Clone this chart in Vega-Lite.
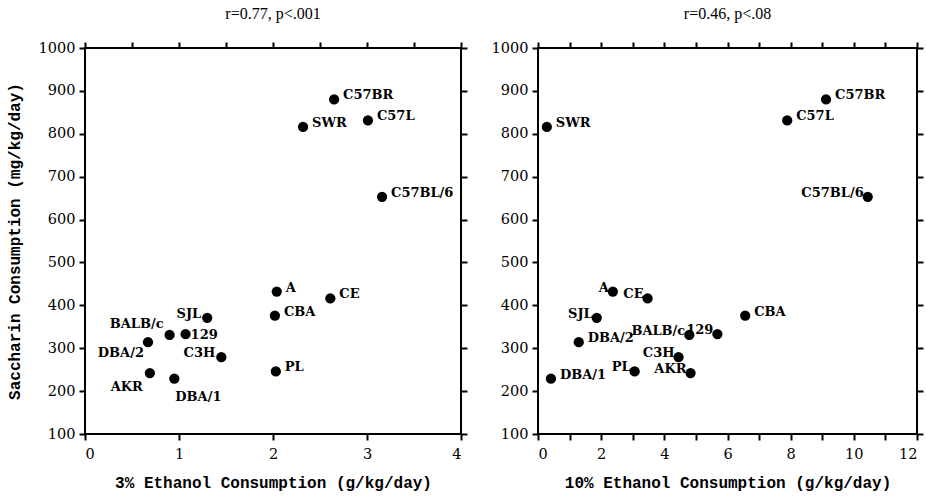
{
  "$schema": "https://vega.github.io/schema/vega-lite/v6.json",
  "background": "white",
  "padding": 5,
  "spacing": 21,
  "data": {"values": [
    {"strain": "C57BR", "e3": 2.65, "e10": 9.12, "sacc": 880},
    {"strain": "SWR", "e3": 2.32, "e10": 0.28, "sacc": 816},
    {"strain": "C57L", "e3": 3.01, "e10": 7.89, "sacc": 831},
    {"strain": "C57BL/6", "e3": 3.16, "e10": 10.44, "sacc": 653},
    {"strain": "A", "e3": 2.04, "e10": 2.37, "sacc": 432},
    {"strain": "CE", "e3": 2.61, "e10": 3.47, "sacc": 416},
    {"strain": "CBA", "e3": 2.02, "e10": 6.56, "sacc": 376},
    {"strain": "SJL", "e3": 1.30, "e10": 1.86, "sacc": 371},
    {"strain": "BALB/c", "e3": 0.90, "e10": 4.79, "sacc": 331},
    {"strain": "129", "e3": 1.07, "e10": 5.68, "sacc": 333},
    {"strain": "DBA/2", "e3": 0.67, "e10": 1.29, "sacc": 314},
    {"strain": "C3H", "e3": 1.45, "e10": 4.45, "sacc": 279},
    {"strain": "PL", "e3": 2.03, "e10": 3.06, "sacc": 246},
    {"strain": "AKR", "e3": 0.69, "e10": 4.83, "sacc": 242},
    {"strain": "DBA/1", "e3": 0.95, "e10": 0.41, "sacc": 229}
  ]},
  "hconcat": [
    {
      "width": 376,
      "height": 386,
      "title": {"text": "r=0.77, p<.001", "font": "Liberation Serif", "fontSize": 16, "fontWeight": "normal", "offset": 18},
      "layer": [
        {
          "mark": {"type": "circle", "size": 105, "color": "black", "opacity": 1},
          "encoding": {
            "x": {"field": "e3", "type": "quantitative", "scale": {"domain": [0, 4], "nice": false},
              "axis": {"orient": "bottom", "values": [0, 0.5, 1, 1.5, 2, 2.5, 3, 3.5, 4], "format": "d", "labelExpr": "datum.value % 1 === 0 ? datum.label : ''", "title": "3% Ethanol Consumption (g/kg/day)", "labelPadding": 7, "titlePadding": 14}},
            "y": {"field": "sacc", "type": "quantitative", "scale": {"domain": [100, 1000], "nice": false},
              "axis": {"orient": "left", "values": [100, 200, 300, 400, 500, 600, 700, 800, 900, 1000], "format": "d", "title": "Saccharin Consumption (mg/kg/day)", "labelPadding": 4, "titlePadding": 16}}
          }
        },
        {
          "mark": {"type": "circle", "opacity": 0},
          "encoding": {
            "x": {"field": "e3", "type": "quantitative", "axis": {"orient": "top", "values": [0, 0.5, 1, 1.5, 2, 2.5, 3, 3.5, 4], "labels": false, "title": null}},
            "y": {"field": "sacc", "type": "quantitative", "axis": {"orient": "right", "values": [100, 200, 300, 400, 500, 600, 700, 800, 900, 1000], "labels": false, "title": null}}
          }
        },
        {
          "transform": [{"filter": {"field": "strain", "oneOf": ["C57BR", "SWR", "C57L", "C57BL/6", "A", "CE", "CBA", "PL"]}}],
          "mark": {"type": "text", "align": "left", "dx": 9, "dy": -4},
          "encoding": {"x": {"field": "e3", "type": "quantitative", "axis": null}, "y": {"field": "sacc", "type": "quantitative", "axis": null}, "text": {"field": "strain"}}
        },
        {
          "transform": [{"filter": {"field": "strain", "oneOf": ["129"]}}],
          "mark": {"type": "text", "align": "left", "dx": 5, "dy": 1},
          "encoding": {"x": {"field": "e3", "type": "quantitative", "axis": null}, "y": {"field": "sacc", "type": "quantitative", "axis": null}, "text": {"field": "strain"}}
        },
        {
          "transform": [{"filter": {"field": "strain", "oneOf": ["SJL", "C3H"]}}],
          "mark": {"type": "text", "align": "right", "dx": -6, "dy": -4},
          "encoding": {"x": {"field": "e3", "type": "quantitative", "axis": null}, "y": {"field": "sacc", "type": "quantitative", "axis": null}, "text": {"field": "strain"}}
        },
        {
          "transform": [{"filter": {"field": "strain", "oneOf": ["BALB/c"]}}],
          "mark": {"type": "text", "align": "right", "dx": -6, "dy": -11},
          "encoding": {"x": {"field": "e3", "type": "quantitative", "axis": null}, "y": {"field": "sacc", "type": "quantitative", "axis": null}, "text": {"field": "strain"}}
        },
        {
          "transform": [{"filter": {"field": "strain", "oneOf": ["DBA/2"]}}],
          "mark": {"type": "text", "align": "right", "dx": -4, "dy": 11},
          "encoding": {"x": {"field": "e3", "type": "quantitative", "axis": null}, "y": {"field": "sacc", "type": "quantitative", "axis": null}, "text": {"field": "strain"}}
        },
        {
          "transform": [{"filter": {"field": "strain", "oneOf": ["AKR"]}}],
          "mark": {"type": "text", "align": "right", "dx": -7, "dy": 14},
          "encoding": {"x": {"field": "e3", "type": "quantitative", "axis": null}, "y": {"field": "sacc", "type": "quantitative", "axis": null}, "text": {"field": "strain"}}
        },
        {
          "transform": [{"filter": {"field": "strain", "oneOf": ["DBA/1"]}}],
          "mark": {"type": "text", "align": "left", "dx": 1, "dy": 18},
          "encoding": {"x": {"field": "e3", "type": "quantitative", "axis": null}, "y": {"field": "sacc", "type": "quantitative", "axis": null}, "text": {"field": "strain"}}
        }
      ],
      "resolve": {"axis": {"x": "independent", "y": "independent"}}
    },
    {
      "width": 379,
      "height": 386,
      "title": {"text": "r=0.46, p<.08", "font": "Liberation Serif", "fontSize": 16, "fontWeight": "normal", "offset": 18},
      "layer": [
        {
          "mark": {"type": "circle", "size": 105, "color": "black", "opacity": 1},
          "encoding": {
            "x": {"field": "e10", "type": "quantitative", "scale": {"domain": [0, 12], "nice": false},
              "axis": {"orient": "bottom", "values": [0, 1, 2, 3, 4, 5, 6, 7, 8, 9, 10, 11, 12], "format": "d", "labelExpr": "datum.value % 2 === 0 ? datum.label : ''", "title": "10% Ethanol Consumption (g/kg/day)", "labelPadding": 7, "titlePadding": 14}},
            "y": {"field": "sacc", "type": "quantitative", "scale": {"domain": [100, 1000], "nice": false},
              "axis": {"orient": "left", "values": [100, 200, 300, 400, 500, 600, 700, 800, 900, 1000], "format": "d", "title": null, "labelPadding": 4}}
          }
        },
        {
          "mark": {"type": "circle", "opacity": 0},
          "encoding": {
            "x": {"field": "e10", "type": "quantitative", "axis": {"orient": "top", "values": [0, 1, 2, 3, 4, 5, 6, 7, 8, 9, 10, 11, 12], "labels": false, "title": null}},
            "y": {"field": "sacc", "type": "quantitative", "axis": {"orient": "right", "values": [100, 200, 300, 400, 500, 600, 700, 800, 900, 1000], "labels": false, "title": null}}
          }
        },
        {
          "transform": [{"filter": {"field": "strain", "oneOf": ["SWR", "C57L", "C57BR", "CBA", "DBA/2", "DBA/1"]}}],
          "mark": {"type": "text", "align": "left", "dx": 9, "dy": -4},
          "encoding": {"x": {"field": "e10", "type": "quantitative", "axis": null}, "y": {"field": "sacc", "type": "quantitative", "axis": null}, "text": {"field": "strain"}}
        },
        {
          "transform": [{"filter": {"field": "strain", "oneOf": ["C57BL/6", "A", "CE", "SJL", "BALB/c", "129", "C3H", "PL", "AKR"]}}],
          "mark": {"type": "text", "align": "right", "dx": -4, "dy": -4},
          "encoding": {"x": {"field": "e10", "type": "quantitative", "axis": null}, "y": {"field": "sacc", "type": "quantitative", "axis": null}, "text": {"field": "strain"}}
        }
      ],
      "resolve": {"axis": {"x": "independent", "y": "independent"}}
    }
  ],
  "config": {
    "view": {"stroke": "black", "strokeWidth": 2},
    "axis": {"grid": false, "domain": false, "ticks": true, "tickColor": "black", "tickWidth": 2, "tickSize": 6,
      "labelFont": "DejaVu Serif", "labelFontSize": 14.5, "labelColor": "black",
      "titleFont": "Liberation Mono", "titleFontSize": 16, "titleFontWeight": "bold", "titleColor": "black"},
    "text": {"font": "DejaVu Serif", "fontSize": 13, "fontWeight": "bold", "baseline": "middle", "color": "black"},
    "title": {"color": "black"}
  }
}
